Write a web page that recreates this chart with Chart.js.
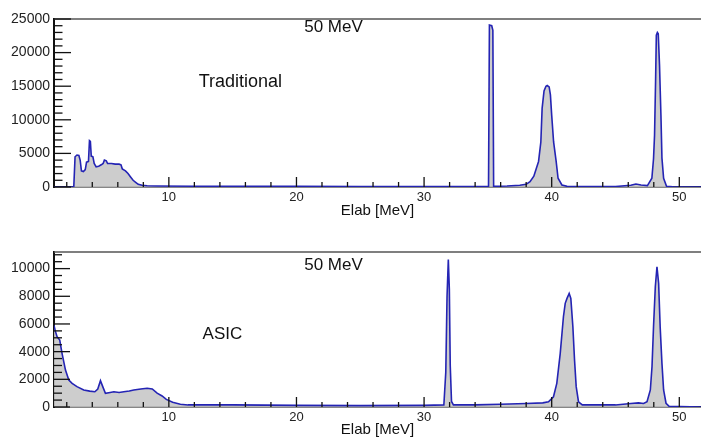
<!DOCTYPE html>
<html>
<head>
<meta charset="utf-8">
<script src="https://cdn.jsdelivr.net/npm/chart.js@4.4.1/dist/chart.umd.min.js"></script>
<style>
  body { margin: 0; background: #fff; }
  #wrap { position: relative; width: 701px; height: 439px; overflow: hidden; }
  canvas { position: absolute; left: 0; }
</style>
</head>
<body>
<div id="wrap">
  <canvas id="topChart" width="701" height="220" style="top:0"></canvas>
  <canvas id="bottomChart" width="701" height="219" style="top:220px"></canvas>
</div>
<script>
'use strict';
// ******* Data *******
// Traditional readout, 50 MeV
let tradEnergy = [1.0, 2.55, 2.65, 2.8, 2.95, 3.05, 3.15, 3.3, 3.45, 3.55, 3.7, 3.78, 3.85, 3.92, 4.05, 4.15, 4.3,
  4.5, 4.7, 4.85, 4.95, 5.1, 5.2, 5.5, 5.8, 6.1, 6.25, 6.35, 6.6, 6.8, 7.0, 7.2, 7.4, 7.6, 7.9, 8.3, 9, 12, 16,
  20, 25, 30, 34, 35.05, 35.12, 35.3, 35.39, 35.45, 36.5, 37.5, 38.0, 38.3, 38.6, 38.8, 38.97, 39.15, 39.25,
  39.4, 39.55, 39.65, 39.8, 39.9, 40.0, 40.15, 40.35, 40.5, 40.8, 41.2, 43, 45, 46.2, 46.6, 47.0, 47.5, 47.85,
  47.98, 48.06, 48.14, 48.2, 48.28, 48.35, 48.45, 48.56, 48.64, 48.77, 49.0, 49.5, 51.7];
let tradCounts = [0, 0, 4500, 4760, 4700, 4000, 2400, 2300, 2600, 3700, 3800, 6900, 6800, 4600, 4500, 3500, 3000,
  3100, 3300, 3500, 4000, 3900, 3500, 3500, 3400, 3400, 3300, 2700, 2400, 2000, 1500, 1000, 700, 400, 250, 180, 150, 120, 100,
  90, 80, 80, 80, 80, 24100, 24000, 23300, 100, 150, 250, 400, 800, 1600, 2800, 3800, 6700, 11700,
  14300, 15000, 15100, 14900, 13700, 10700, 6700, 3800, 1300, 300, 100, 80, 80, 250, 450, 300, 200, 1300,
  4200, 7700, 15700, 22600, 23000, 22800, 18100, 10700, 4300, 1300, 100, 30, 0];

// ASIC readout, 50 MeV
let asicEnergy = [1.0, 1.1, 1.24, 1.45, 1.63, 1.9, 2.16, 2.42, 2.8, 3.33, 3.8, 4.2, 4.43, 4.64, 4.82, 5.03, 5.4,
  5.69, 6.1, 6.47, 6.9, 7.25, 7.8, 8.3, 8.7, 9.08, 9.47, 9.8, 10.3, 10.9, 11.5, 15, 20, 25, 30, 31.55, 31.7,
  31.8, 31.9, 31.98, 32.05, 32.15, 32.3, 34, 36, 38, 39.3, 39.75, 40.14, 40.4, 40.67, 40.92, 41.06, 41.2, 41.37,
  41.5, 41.66, 41.79, 41.92, 42.1, 42.4, 45, 46.2, 46.8, 47.2, 47.47, 47.73, 47.86, 47.98, 48.12, 48.25, 48.38,
  48.5, 48.64, 48.77, 48.96, 49.2, 51.7];
let asicCounts = [5900, 5500, 5080, 4840, 3880, 2670, 1950, 1710, 1470, 1230, 1150, 1100, 1300, 1900, 1470, 990, 1050,
  1100, 1050, 1100, 1150, 1230, 1300, 1350, 1300, 1000, 800, 550, 350, 200, 150, 150, 120, 100, 120, 150, 2500,
  8000, 10650, 8500, 3000, 400, 150, 150, 200, 250, 300, 380, 740, 1710, 3880, 6520, 7490, 7850, 8210,
  7850, 5800, 3390, 1470, 380, 150, 150, 250, 300, 250, 380, 1230, 2910, 5800, 8690, 10130, 8930,
  5800, 3150, 1230, 270, 50, 0];

// ****** Tick labels ******
let xTickValues = [10, 20, 30, 40, 50];
let tradYTicks = [0, 5000, 10000, 15000, 20000, 25000];
let asicYTicks = [0, 2000, 4000, 6000, 8000, 10000];

// ****** Helpers ******
function toPoints(xs, ys) {
  let pts = [];
  for (let i = 0; i < xs.length; i++) {
    pts.push({ x: xs[i], y: ys[i] });
  }
  return pts;
}

// draws the ROOT-style frame: inward ticks, top border, labels in the pad
let framePlugin = {
  id: 'frame',
  afterDraw(chart, args, opts) {
    let ctx = chart.ctx;
    let area = chart.chartArea;
    let xs = chart.scales.x;
    let ys = chart.scales.y;
    ctx.save();
    // top border
    ctx.strokeStyle = '#555';
    ctx.lineWidth = 1.5;
    ctx.beginPath();
    ctx.moveTo(area.left, area.top);
    ctx.lineTo(area.right, area.top);
    ctx.stroke();

    ctx.strokeStyle = '#111';
    ctx.lineWidth = 1.3;
    // y ticks, pointing inwards
    for (let v = 0; v <= ys.max + 1; v += opts.yMinor) {
      let py = ys.getPixelForValue(v);
      let len = (v % opts.yMajor === 0) ? opts.yMajorLen : opts.yMajorLen / 2;
      ctx.beginPath();
      ctx.moveTo(area.left, py);
      ctx.lineTo(area.left + len, py);
      ctx.stroke();
    }
    // x ticks
    for (let v = 2; v <= xs.max; v += 2) {
      let px = xs.getPixelForValue(v);
      let len = (v % 10 === 0) ? 10 : 5;
      ctx.beginPath();
      ctx.moveTo(px, area.bottom);
      ctx.lineTo(px, area.bottom - len);
      ctx.stroke();
    }
    // labels inside the pad
    ctx.fillStyle = '#111';
    ctx.textAlign = 'center';
    ctx.textBaseline = 'middle';
    opts.labels.forEach(function (lab) {
      ctx.font = lab.size + 'px "Liberation Sans", Arial, sans-serif';
      ctx.fillText(lab.text, xs.getPixelForValue(lab.x), ys.getPixelForValue(lab.y));
    });
    ctx.restore();
  }
};

function makeOptions(yTicks, yMax, padTop, xAxisHeight, frameOpts) {
  return {
    responsive: false,
    animation: false,
    layout: { padding: { top: padTop, right: 0, left: 0, bottom: 0 } },
    plugins: {
      legend: { display: false },
      tooltip: { enabled: false },
      frame: frameOpts
    },
    scales: {
      x: {
        type: 'linear',
        min: 1,
        max: 51.7,
        grid: { display: false, drawTicks: false },
        border: { display: true, color: '#111', width: 1.5 },
        afterBuildTicks: function (scale) {
          scale.ticks = xTickValues.map(v => ({ value: v }));
        },
        afterFit: function (scale) { scale.height = xAxisHeight; },
        ticks: {
          padding: 3,
          color: '#222',
          font: { family: '"Liberation Sans", Arial, sans-serif', size: 13 },
          callback: v => String(v)
        },
        title: {
          display: true,
          text: 'Elab [MeV]',
          color: '#111',
          padding: { top: 0, bottom: 2 },
          font: { family: '"Liberation Sans", Arial, sans-serif', size: 15, lineHeight: 1 }
        }
      },
      y: {
        min: 0,
        max: yMax,
        grid: { display: false, drawTicks: false },
        border: { display: true, color: '#111', width: 2 },
        afterBuildTicks: function (scale) {
          scale.ticks = yTicks.map(v => ({ value: v }));
        },
        afterFit: function (scale) { scale.width = 54; },
        ticks: {
          padding: 4,
          color: '#222',
          font: { family: '"Liberation Sans", Arial, sans-serif', size: 14 },
          callback: v => String(v)
        }
      }
    }
  };
}

function makeDataset(xs, ys) {
  return {
    data: toPoints(xs, ys),
    borderColor: '#2424b4',
    borderWidth: 1.6,
    backgroundColor: 'rgba(200,200,200,0.9)',
    fill: 'origin',
    pointRadius: 0,
    tension: 0
  };
}

// ****** Charts ******
new Chart(document.getElementById('topChart'), {
  type: 'line',
  data: { datasets: [makeDataset(tradEnergy, tradCounts)] },
  options: makeOptions(tradYTicks, 25000, 19, 33, {
    yMinor: 1000, yMajor: 5000, yMajorLen: 17,
    labels: [
      { text: '50 MeV', x: 22.9, y: 23800, size: 17 },
      { text: 'Traditional', x: 15.6, y: 15600, size: 18 }
    ]
  }),
  plugins: [framePlugin]
});

new Chart(document.getElementById('bottomChart'), {
  type: 'line',
  data: { datasets: [makeDataset(asicEnergy, asicCounts)] },
  options: makeOptions(asicYTicks, 11200, 32, 32, {
    yMinor: 500, yMajor: 2000, yMajorLen: 16,
    labels: [
      { text: '50 MeV', x: 22.9, y: 10250, size: 17 },
      { text: 'ASIC', x: 14.2, y: 5270, size: 17 }
    ]
  }),
  plugins: [framePlugin]
});
</script>
</body>
</html>
